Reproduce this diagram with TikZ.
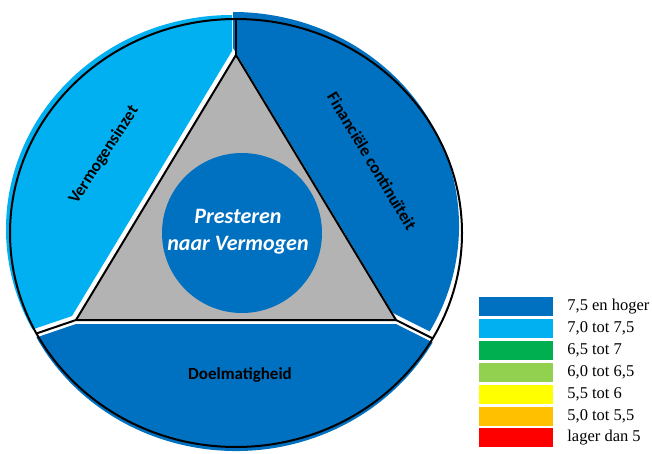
\documentclass[tikz,border=0pt]{standalone}
\usepackage{fontspec}
\setmainfont{Liberation Serif}
\newfontfamily\calib{Carlito}
\usepackage{tikz}
\usetikzlibrary{positioning, calc}
\definecolor{dblue}{HTML}{0070C0}
\definecolor{lblue}{HTML}{00B0F0}
\definecolor{sgreen}{HTML}{00B050}
\definecolor{lgreen}{HTML}{92D050}
\definecolor{syellow}{HTML}{FFFF00}
\definecolor{sorange}{HTML}{FFC000}
\definecolor{sred}{HTML}{FF0000}
\definecolor{trigray}{HTML}{B3B3B3}

\begin{document}
\begin{tikzpicture}[
    x=1pt,y=1pt,
    seglabel/.style={font=\calib\bfseries\fontsize{17}{20}\selectfont,text=black},
    outline/.style={draw=black,line width=2pt},
    key/.style={minimum width=74pt,minimum height=19pt,inner sep=0pt,draw=none},
    keytext/.style={inner sep=0pt,font=\fontsize{16.5}{19}\selectfont,anchor=west}
  ]
  \useasboundingbox (0,0) rectangle (652,453);

  % Geometry
  \coordinate (c) at (236,220);
  \coordinate (apex) at (236,398);
  \coordinate (bl) at (76,133);
  \coordinate (br) at (396,133);
  \coordinate (ptop) at (236,434);
  \coordinate (pleft) at ($(c)+(208:226 and 214)$);
  \coordinate (pright) at ($(c)+(-29.5:226 and 214)$);

  % Segments
  \fill[dblue,transform canvas={shift={(-3pt,7pt)}}] (apex) -- (br) -- (pright)
    arc[start angle=-29.5,end angle=90,x radius=226,y radius=214] -- cycle;
  \fill[lblue,transform canvas={shift={(-4pt,4pt)}}] (apex) -- (ptop)
    arc[start angle=90,end angle=208,x radius=226,y radius=214] -- (bl) -- cycle;
  \fill[dblue,transform canvas={shift={(0pt,-4pt)}}] (bl) -- (pleft)
    arc[start angle=208,end angle=330.5,x radius=226,y radius=214] -- (br) -- cycle;

  % Outline
  \draw[outline] (c) ellipse[x radius=226,y radius=214];
  \draw[outline] (apex) -- (ptop);
  \draw[outline] (bl) -- (pleft);
  \draw[outline] (br) -- (pright);
  \draw[outline,fill=trigray,line join=round] (apex) -- (br) -- (bl) -- cycle;

  % Centre
  \node[circle,fill=dblue,minimum size=160pt,inner sep=0pt] (core) at (242,220) {};
  \node[font=\calib\bfseries\itshape\fontsize{22}{27}\selectfont,text=white,align=center]
    (coretext) at (238,221) {Presteren\\naar Vermogen};

  \node[seglabel,rotate=57] (inzet) at (104,298) {Vermogensinzet};
  \node[seglabel,rotate=-59] (contin) at (372,292) {Financiële continuïteit};
  \node[seglabel] (doel) at (240,78) {Doelmatigheid};

  % Legend
  \node[key,fill=dblue] (k1) at (516,146.5) {};
  \node[key,fill=lblue,below=2.5pt of k1] (k2) {};
  \node[key,fill=sgreen,below=2.5pt of k2] (k3) {};
  \node[key,fill=lgreen,below=2.5pt of k3] (k4) {};
  \node[key,fill=syellow,below=2.5pt of k4] (k5) {};
  \node[key,fill=sorange,below=2.5pt of k5] (k6) {};
  \node[key,fill=sred,below=2.5pt of k6] (k7) {};

  \node[keytext,right=14pt of k1] (t1) {7,5 en hoger};
  \node[keytext,right=14pt of k2] (t2) {7,0 tot 7,5};
  \node[keytext,right=14pt of k3] (t3) {6,5 tot 7};
  \node[keytext,right=14pt of k4] (t4) {6,0 tot 6,5};
  \node[keytext,right=14pt of k5] (t5) {5,5 tot 6};
  \node[keytext,right=14pt of k6] (t6) {5,0 tot 5,5};
  \node[keytext,right=14pt of k7] (t7) {lager dan 5};
\end{tikzpicture}
\end{document}
